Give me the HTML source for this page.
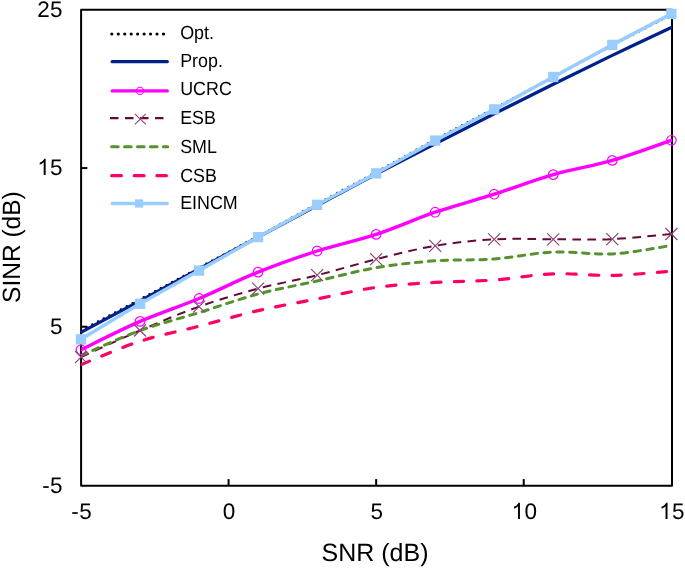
<!DOCTYPE html>
<html><head><meta charset="utf-8"><style>
html,body{margin:0;padding:0;background:#fff;width:685px;height:568px;overflow:hidden;}
svg{display:block;font-family:"Liberation Sans",sans-serif;text-rendering:geometricPrecision;will-change:transform;}
</style></head><body>
<svg width="685" height="568" viewBox="0 0 685 568">
<rect x="0" y="0" width="685" height="568" fill="#fff"/>
<path d="M81.1,9.7 H672.0 V485.7 H81.1 Z" fill="none" stroke="#000" stroke-width="2" stroke-linejoin="round"/>
<line x1="81.1" y1="168.07" x2="87.4" y2="168.07" stroke="#000" stroke-width="2"/>
<line x1="81.1" y1="326.73" x2="87.4" y2="326.73" stroke="#000" stroke-width="2"/>
<line x1="228.57" y1="485.7" x2="228.57" y2="479.1" stroke="#000" stroke-width="2"/>
<line x1="376.15" y1="485.7" x2="376.15" y2="479.1" stroke="#000" stroke-width="2"/>
<line x1="523.73" y1="485.7" x2="523.73" y2="479.1" stroke="#000" stroke-width="2"/>
<defs><clipPath id="pa"><rect x="81.1" y="4.7" width="590.9" height="481.0"/></clipPath></defs>
<g clip-path="url(#pa)">
<path d="M81.00,330.60 C90.84,325.40 120.35,309.87 140.03,299.40 C159.71,288.93 179.38,278.32 199.06,267.80 C218.74,257.28 238.41,246.95 258.09,236.30 C277.77,225.65 297.44,214.57 317.12,203.90 C336.80,193.23 356.47,183.00 376.15,172.30 C395.83,161.60 415.50,150.33 435.18,139.70 C454.86,129.07 474.53,118.95 494.21,108.50 C513.89,98.05 533.56,87.53 553.24,77.00 C572.92,66.47 592.58,55.72 612.27,45.30 C631.96,34.88 661.54,19.63 671.40,14.50" fill="none" stroke="#000000" stroke-width="2.6" stroke-linecap="round" stroke-dasharray="0 6.46"/>
<path d="M81.00,332.30 C90.84,327.05 120.35,311.38 140.03,300.80 C159.71,290.22 179.38,279.40 199.06,268.80 C218.74,258.20 238.41,247.75 258.09,237.20 C277.77,226.65 297.44,216.00 317.12,205.50 C336.80,195.00 356.47,184.48 376.15,174.20 C395.83,163.92 415.50,153.87 435.18,143.80 C454.86,133.73 474.53,123.72 494.21,113.80 C513.89,103.88 533.56,94.03 553.24,84.30 C572.92,74.57 592.58,64.88 612.27,55.40 C631.96,45.92 661.54,32.07 671.40,27.40" fill="none" stroke="#00208C" stroke-width="3.2" stroke-linecap="round"/>
<path d="M81.00,349.70 C90.84,344.98 120.35,329.93 140.03,321.40 C159.71,312.87 179.38,306.72 199.06,298.50 C218.74,290.28 238.41,280.02 258.09,272.10 C277.77,264.18 297.44,257.28 317.12,251.00 C336.80,244.72 356.47,240.87 376.15,234.40 C395.83,227.93 415.50,218.90 435.18,212.20 C454.86,205.50 474.53,200.47 494.21,194.20 C513.89,187.93 533.56,180.23 553.24,174.60 C572.92,168.97 592.58,166.12 612.27,160.40 C631.96,154.68 661.54,143.65 671.40,140.30" fill="none" stroke="#FF00FF" stroke-width="3.4" stroke-linecap="round"/>
<path d="M81.00,357.10 C90.84,352.67 120.35,338.92 140.03,330.50 C159.71,322.08 179.38,313.58 199.06,306.60 C218.74,299.62 238.41,293.83 258.09,288.60 C277.77,283.37 297.44,280.10 317.12,275.20 C336.80,270.30 356.47,264.10 376.15,259.20 C395.83,254.30 415.50,249.12 435.18,245.80 C454.86,242.48 474.53,240.38 494.21,239.30 C513.89,238.22 533.56,239.33 553.24,239.30 C572.92,239.27 592.58,239.98 612.27,239.10 C631.96,238.22 661.54,234.85 671.40,234.00" fill="none" stroke="#640A38" stroke-width="2" stroke-dasharray="8.7 6.3"/>
<path d="M81.00,355.50 C90.84,351.33 120.35,337.65 140.03,330.50 C159.71,323.35 179.38,318.68 199.06,312.60 C218.74,306.52 238.41,299.27 258.09,294.00 C277.77,288.73 297.44,285.38 317.12,281.00 C336.80,276.62 356.47,271.07 376.15,267.70 C395.83,264.33 415.50,262.25 435.18,260.80 C454.86,259.35 474.53,260.47 494.21,259.00 C513.89,257.53 533.56,252.85 553.24,252.00 C572.92,251.15 592.58,254.98 612.27,253.90 C631.96,252.82 661.54,246.90 671.40,245.50" fill="none" stroke="#55922E" stroke-width="3" stroke-linecap="round" stroke-dasharray="6.4 6.5"/>
<path d="M81.00,364.60 C90.84,360.72 120.35,347.70 140.03,341.30 C159.71,334.90 179.38,331.32 199.06,326.20 C218.74,321.08 238.41,315.15 258.09,310.60 C277.77,306.05 297.44,302.77 317.12,298.90 C336.80,295.03 356.47,290.15 376.15,287.40 C395.83,284.65 415.50,283.63 435.18,282.40 C454.86,281.17 474.53,281.43 494.21,280.00 C513.89,278.57 533.56,274.57 553.24,273.80 C572.92,273.03 592.58,275.83 612.27,275.40 C631.96,274.97 661.54,271.90 671.40,271.20" fill="none" stroke="#FF0066" stroke-width="3.2" stroke-linecap="round" stroke-dasharray="9.3 13.3"/>
<path d="M81.00,339.30 C90.84,333.38 120.35,315.25 140.03,303.80 C159.71,292.35 179.38,281.72 199.06,270.60 C218.74,259.48 238.41,248.07 258.09,237.10 C277.77,226.13 297.44,215.42 317.12,204.80 C336.80,194.18 356.47,184.10 376.15,173.40 C395.83,162.70 415.50,151.27 435.18,140.60 C454.86,129.93 474.53,120.00 494.21,109.40 C513.89,98.80 533.56,87.75 553.24,77.00 C572.92,66.25 592.58,55.42 612.27,44.90 C631.96,34.38 661.54,19.07 671.40,13.90" fill="none" stroke="#99CCFF" stroke-width="3.5" stroke-linecap="round"/>
</g>
<circle cx="81.00" cy="349.70" r="4.8" fill="none" stroke="#FF00FF" stroke-width="1.2"/>
<circle cx="140.03" cy="321.40" r="4.8" fill="none" stroke="#FF00FF" stroke-width="1.2"/>
<circle cx="199.06" cy="298.50" r="4.8" fill="none" stroke="#FF00FF" stroke-width="1.2"/>
<circle cx="258.09" cy="272.10" r="4.8" fill="none" stroke="#FF00FF" stroke-width="1.2"/>
<circle cx="317.12" cy="251.00" r="4.8" fill="none" stroke="#FF00FF" stroke-width="1.2"/>
<circle cx="376.15" cy="234.40" r="4.8" fill="none" stroke="#FF00FF" stroke-width="1.2"/>
<circle cx="435.18" cy="212.20" r="4.8" fill="none" stroke="#FF00FF" stroke-width="1.2"/>
<circle cx="494.21" cy="194.20" r="4.8" fill="none" stroke="#FF00FF" stroke-width="1.2"/>
<circle cx="553.24" cy="174.60" r="4.8" fill="none" stroke="#FF00FF" stroke-width="1.2"/>
<circle cx="612.27" cy="160.40" r="4.8" fill="none" stroke="#FF00FF" stroke-width="1.2"/>
<circle cx="671.40" cy="140.30" r="4.8" fill="none" stroke="#FF00FF" stroke-width="1.2"/>
<path d="M75.00,351.10 l12,12 M87.00,351.10 l-12,12" stroke="#8E4277" stroke-width="1.2" fill="none"/>
<path d="M134.03,324.50 l12,12 M146.03,324.50 l-12,12" stroke="#8E4277" stroke-width="1.2" fill="none"/>
<path d="M193.06,300.60 l12,12 M205.06,300.60 l-12,12" stroke="#8E4277" stroke-width="1.2" fill="none"/>
<path d="M252.09,282.60 l12,12 M264.09,282.60 l-12,12" stroke="#8E4277" stroke-width="1.2" fill="none"/>
<path d="M311.12,269.20 l12,12 M323.12,269.20 l-12,12" stroke="#8E4277" stroke-width="1.2" fill="none"/>
<path d="M370.15,253.20 l12,12 M382.15,253.20 l-12,12" stroke="#8E4277" stroke-width="1.2" fill="none"/>
<path d="M429.18,239.80 l12,12 M441.18,239.80 l-12,12" stroke="#8E4277" stroke-width="1.2" fill="none"/>
<path d="M488.21,233.30 l12,12 M500.21,233.30 l-12,12" stroke="#8E4277" stroke-width="1.2" fill="none"/>
<path d="M547.24,233.30 l12,12 M559.24,233.30 l-12,12" stroke="#8E4277" stroke-width="1.2" fill="none"/>
<path d="M606.27,233.10 l12,12 M618.27,233.10 l-12,12" stroke="#8E4277" stroke-width="1.2" fill="none"/>
<path d="M665.40,228.00 l12,12 M677.40,228.00 l-12,12" stroke="#8E4277" stroke-width="1.2" fill="none"/>
<rect x="75.85" y="334.15" width="10.3" height="10.3" fill="#99CCFF"/>
<rect x="134.88" y="298.65" width="10.3" height="10.3" fill="#99CCFF"/>
<rect x="193.91" y="265.45" width="10.3" height="10.3" fill="#99CCFF"/>
<rect x="252.94" y="231.95" width="10.3" height="10.3" fill="#99CCFF"/>
<rect x="311.97" y="199.65" width="10.3" height="10.3" fill="#99CCFF"/>
<rect x="371.00" y="168.25" width="10.3" height="10.3" fill="#99CCFF"/>
<rect x="430.03" y="135.45" width="10.3" height="10.3" fill="#99CCFF"/>
<rect x="489.06" y="104.25" width="10.3" height="10.3" fill="#99CCFF"/>
<rect x="548.09" y="71.85" width="10.3" height="10.3" fill="#99CCFF"/>
<rect x="607.12" y="39.75" width="10.3" height="10.3" fill="#99CCFF"/>
<rect x="666.25" y="8.75" width="10.3" height="10.3" fill="#99CCFF"/>
<text x="37.27" y="17.00" font-size="22.5" font-family="Liberation Sans, sans-serif">2</text>
<text x="50.09" y="17.00" font-size="22.5" font-family="Liberation Sans, sans-serif">5</text>
<path d="M45.66,174.90 L43.68,174.90 L43.68,162.30 Q42.96,162.98 41.80,163.66 Q40.63,164.34 39.71,164.68 L39.71,162.77 Q41.37,161.99 42.61,160.88 Q43.85,159.77 44.37,158.73 L45.66,158.73 Z" fill="#000"/>
<text x="50.09" y="174.90" font-size="22.5" font-family="Liberation Sans, sans-serif">5</text>
<text x="50.09" y="333.60" font-size="22.5" font-family="Liberation Sans, sans-serif">5</text>
<text x="42.29" y="492.50" font-size="22.5" font-family="Liberation Sans, sans-serif">-</text>
<text x="50.09" y="492.50" font-size="22.5" font-family="Liberation Sans, sans-serif">5</text>
<text x="71.35" y="518.90" font-size="22.5" font-family="Liberation Sans, sans-serif">-</text>
<text x="79.14" y="518.90" font-size="22.5" font-family="Liberation Sans, sans-serif">5</text>
<text x="222.82" y="518.90" font-size="22.5" font-family="Liberation Sans, sans-serif">0</text>
<text x="370.39" y="518.90" font-size="22.5" font-family="Liberation Sans, sans-serif">5</text>
<path d="M519.94,518.90 L517.97,518.90 L517.97,506.30 Q517.25,506.98 516.09,507.66 Q514.92,508.34 514.00,508.68 L514.00,506.77 Q515.66,505.99 516.90,504.88 Q518.14,503.77 518.66,502.73 L519.94,502.73 Z" fill="#000"/>
<text x="524.38" y="518.90" font-size="22.5" font-family="Liberation Sans, sans-serif">0</text>
<path d="M667.52,518.90 L665.54,518.90 L665.54,506.30 Q664.83,506.98 663.66,507.66 Q662.50,508.34 661.58,508.68 L661.58,506.77 Q663.23,505.99 664.48,504.88 Q665.72,503.77 666.23,502.73 L667.52,502.73 Z" fill="#000"/>
<text x="671.95" y="518.90" font-size="22.5" font-family="Liberation Sans, sans-serif">5</text>
<text x="375" y="560.6" text-anchor="middle" font-size="25" font-family="Liberation Sans, sans-serif">SNR (dB)</text>
<text transform="translate(19.7,247.1) rotate(-90) scale(0.98,1)" x="0" y="0" text-anchor="middle" font-size="25" font-family="Liberation Sans, sans-serif">SINR (dB)</text>
<line x1="111.8" y1="34.0" x2="164" y2="34.0" stroke="#000" stroke-width="3.2" stroke-linecap="round" stroke-dasharray="0 6.46"/>
<text transform="translate(180.2,38.7) scale(0.94,1)" font-size="19" font-family="Liberation Sans, sans-serif">Opt.</text>
<line x1="112.2" y1="61.7" x2="167.3" y2="61.7" stroke="#00208C" stroke-width="3.3" stroke-linecap="round"/>
<text transform="translate(180.2,67.3) scale(0.94,1)" font-size="19" font-family="Liberation Sans, sans-serif">Prop.</text>
<line x1="112.2" y1="90.9" x2="167.3" y2="90.9" stroke="#FF00FF" stroke-width="3.3" stroke-linecap="round"/>
<circle cx="140" cy="90.9" r="3.6" fill="none" stroke="#FF00FF" stroke-width="1.1"/>
<text transform="translate(180.2,95.3) scale(0.94,1)" font-size="19" font-family="Liberation Sans, sans-serif">UCRC</text>
<line x1="110" y1="118.1" x2="164" y2="118.1" stroke="#640A38" stroke-width="2.4" stroke-dasharray="8.5 6.5"/>
<path d="M134.8,113.9 l11,10.4 M145.8,113.9 l-11,10.4" stroke="#8E4277" stroke-width="1.1" fill="none"/>
<text transform="translate(180.2,124.3) scale(0.94,1)" font-size="19" font-family="Liberation Sans, sans-serif">ESB</text>
<line x1="111.6" y1="146.7" x2="167.7" y2="146.7" stroke="#55922E" stroke-width="3" stroke-linecap="round" stroke-dasharray="6.6 6.35"/>
<text transform="translate(180.2,152.5) scale(0.94,1)" font-size="19" font-family="Liberation Sans, sans-serif">SML</text>
<line x1="111.7" y1="175.7" x2="166.4" y2="175.7" stroke="#FF0066" stroke-width="3.2" stroke-linecap="round" stroke-dasharray="9.7 12.9"/>
<text transform="translate(180.2,181.8) scale(0.94,1)" font-size="19" font-family="Liberation Sans, sans-serif">CSB</text>
<line x1="112.2" y1="203.5" x2="167.3" y2="203.5" stroke="#99CCFF" stroke-width="3.3" stroke-linecap="round"/>
<rect x="135" y="199.4" width="8.2" height="8.2" fill="#99CCFF"/>
<text transform="translate(180.2,209.2) scale(0.94,1)" font-size="19" font-family="Liberation Sans, sans-serif">EINCM</text>
</svg>
</body></html>
